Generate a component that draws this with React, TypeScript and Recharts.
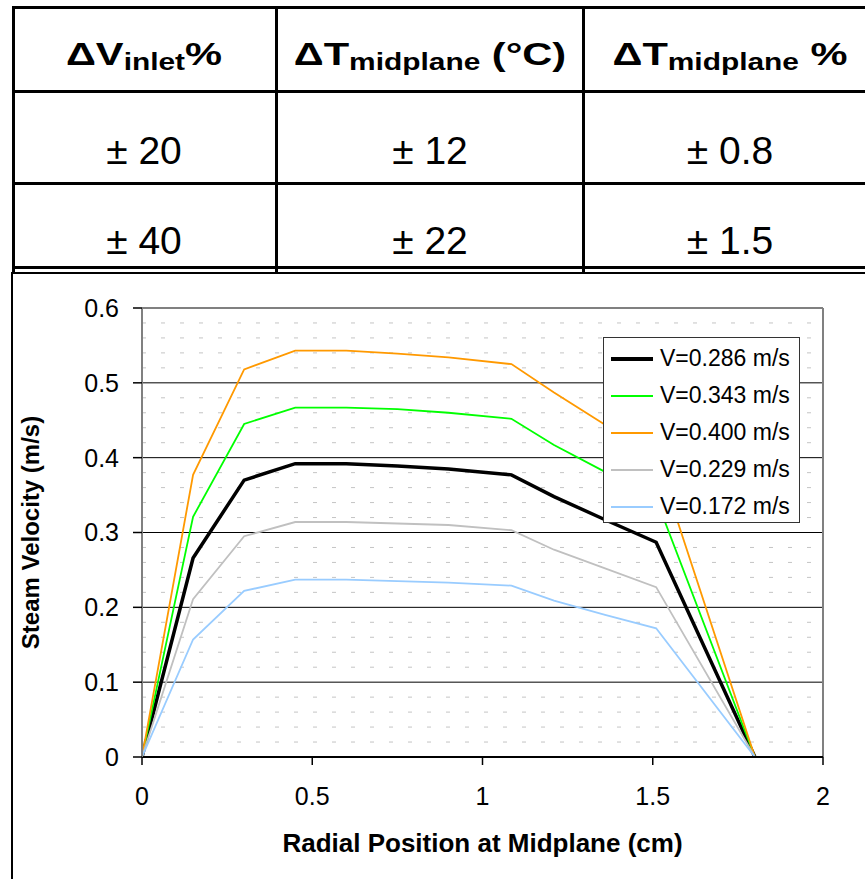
import React from 'react';
import { LineChart, Line, XAxis, YAxis, ReferenceLine, Legend, Label } from 'recharts';

// ---- Table data ----
const tableHeaders = [
  { main: 'ΔV', sub: 'inlet', tail: '%' },
  { main: 'ΔT', sub: 'midplane', tail: ' (°C)' },
  { main: 'ΔT', sub: 'midplane', tail: ' %' },
];
const dvInlet = ['± 20', '± 40'];
const dtMidplaneC = ['± 12', '± 22'];
const dtMidplanePct = ['± 0.8', '± 1.5'];

// ---- Chart data ----
const radialPositions = [0, 0.15, 0.3, 0.45, 0.6, 0.75, 0.9, 1.085, 1.21, 1.36, 1.51, 1.8];
const v286 = [0, 0.266, 0.370, 0.392, 0.392, 0.389, 0.385, 0.377, 0.348, 0.317, 0.287, 0];
const v343 = [0, 0.321, 0.445, 0.467, 0.467, 0.465, 0.460, 0.452, 0.417, 0.381, 0.345, 0];
const v400 = [0, 0.377, 0.518, 0.543, 0.543, 0.539, 0.534, 0.525, 0.487, 0.444, 0.402, 0];
const v229 = [0, 0.211, 0.295, 0.314, 0.314, 0.312, 0.310, 0.303, 0.277, 0.252, 0.227, 0];
const v172 = [0, 0.157, 0.222, 0.237, 0.237, 0.235, 0.233, 0.229, 0.209, 0.190, 0.172, 0];

const seriesNames = ['V=0.286 m/s', 'V=0.343 m/s', 'V=0.400 m/s', 'V=0.229 m/s', 'V=0.172 m/s'];
const seriesKeys = ['v286', 'v343', 'v400', 'v229', 'v172'];
const seriesValues = [v286, v343, v400, v229, v172];
const seriesColors = ['#000000', '#00FF00', '#FF9900', '#C0C0C0', '#99CCFF'];
const seriesWidths = [3.5, 1.8, 1.8, 1.8, 1.8];

const xTicks = [0, 0.5, 1, 1.5, 2];
const yTicks = [0, 0.1, 0.2, 0.3, 0.4, 0.5, 0.6];
const majorGrid = [0.1, 0.2, 0.3, 0.4, 0.5];
const minorGrid = [
  0.02, 0.04, 0.06, 0.08, 0.12, 0.14, 0.16, 0.18, 0.22, 0.24, 0.26, 0.28,
  0.32, 0.34, 0.36, 0.38, 0.42, 0.44, 0.46, 0.48, 0.52, 0.54, 0.56, 0.58,
];

const data = radialPositions.map((x, i) => {
  const row: Record<string, number> = { x };
  seriesKeys.forEach((k, j) => {
    row[k] = seriesValues[j][i];
  });
  return row;
});

const FONT = '"Liberation Sans", Arial, Helvetica, sans-serif';

const colCenters = [144, 430, 730];
const headerStretch = 1.3;

function TableSvg() {
  return (
    <svg width={865} height={272} style={{ position: 'absolute', left: 0, top: 0 }} fontFamily={FONT}>
      <rect x={12} y={6} width={860} height={3} fill="#000" />
      <rect x={12} y={90} width={860} height={3} fill="#000" />
      <rect x={12} y={182} width={860} height={3} fill="#000" />
      <rect x={12} y={266} width={860} height={3} fill="#000" />
      <rect x={12} y={6} width={3} height={266} fill="#000" />
      <rect x={275} y={6} width={3} height={266} fill="#000" />
      <rect x={582} y={6} width={3} height={266} fill="#000" />
      {tableHeaders.map((h, i) => (
        <text
          key={i}
          transform={`translate(${colCenters[i]},65) scale(${headerStretch},1)`}
          textAnchor="middle"
          fontWeight="bold"
          fontSize={32}
          fill="#000"
        >
          {h.main}
          <tspan fontSize={23} dy={5}>{h.sub}</tspan>
          <tspan fontSize={32} dy={-5}>{h.tail}</tspan>
        </text>
      ))}
      {[dvInlet, dtMidplaneC, dtMidplanePct].map((col, i) =>
        col.map((v, r) => (
          <text
            key={`${i}-${r}`}
            x={colCenters[i]}
            y={r === 0 ? 164 : 254}
            textAnchor="middle"
            fontSize={39}
            fill="#000"
          >
            {v}
          </text>
        ))
      )}
    </svg>
  );
}

function LegendBox() {
  return (
    <div
      style={{
        width: 195,
        height: 184,
        border: '1px solid #333',
        background: '#fff',
        fontFamily: FONT,
        fontSize: 23,
        color: '#000',
        boxSizing: 'content-box',
      }}
    >
      {seriesNames.map((n, i) => (
        <div key={n} style={{ height: 37, display: 'flex', alignItems: 'center', marginTop: i === 0 ? 2 : 0 }}>
          <svg width={56} height={10} style={{ flex: 'none' }}>
            <line x1={7} x2={49} y1={5} y2={5} stroke={seriesColors[i]} strokeWidth={i === 0 ? 4 : 2} />
          </svg>
          <span style={{ whiteSpace: 'nowrap' }}>{n}</span>
        </div>
      ))}
    </div>
  );
}

const renderYLabel = (props: any) => {
  const vb = props.viewBox || { x: 12, y: 308, width: 130, height: 449 };
  const cx = vb.x + 27;
  const cy = vb.y + vb.height / 2;
  return (
    <text
      x={cx}
      y={cy}
      transform={`rotate(-90 ${cx} ${cy})`}
      textAnchor="middle"
      fontFamily={FONT}
      fontWeight="bold"
      fontSize={24}
      fill="#000"
    >
      Steam Velocity (m/s)
    </text>
  );
};

const renderXLabel = (props: any) => {
  const vb = props.viewBox || { x: 142, y: 757, width: 681, height: 60 };
  const cx = vb.x + vb.width / 2;
  const cy = vb.y + 95;
  return (
    <text x={cx} y={cy} textAnchor="middle" fontFamily={FONT} fontWeight="bold" fontSize={26} fill="#000">
      Radial Position at Midplane (cm)
    </text>
  );
};

export default function App() {
  return (
    <div
      style={{
        position: 'absolute',
        left: 0,
        top: 0,
        width: 865,
        height: 879,
        overflow: 'hidden',
        background: '#fff',
        fontFamily: FONT,
      }}
    >
      <TableSvg />
      <div
        style={{
          position: 'absolute',
          left: 11,
          top: 272,
          width: 900,
          height: 700,
          border: '2px solid #000',
        }}
      />
      <div style={{ position: 'absolute', left: 0, top: 0 }}>
        <LineChart
          width={865}
          height={879}
          data={data}
          margin={{ top: 308, right: 42, bottom: 62, left: 12 }}
        >
          {minorGrid.map((v) => (
            <ReferenceLine key={`m${v}`} y={v} stroke="#C4C4C4" strokeWidth={1} strokeDasharray="4 15" />
          ))}
          {majorGrid.map((v) => (
            <ReferenceLine key={`M${v}`} y={v} stroke="#000" strokeWidth={1} />
          ))}
          <ReferenceLine y={0.6} stroke="#808080" strokeWidth={2} />
          <ReferenceLine x={2} stroke="#808080" strokeWidth={2} />
          <XAxis
            type="number"
            dataKey="x"
            domain={[0, 2]}
            ticks={xTicks}
            allowDataOverflow
            height={60}
            tickSize={8}
            tickMargin={22}
            axisLine={{ stroke: '#000', strokeWidth: 2 }}
            tickLine={{ stroke: '#000', strokeWidth: 1.5 }}
            tick={{ fill: '#000', fontSize: 25, fontFamily: FONT }}
          >
            <Label content={renderXLabel} />
          </XAxis>
          <YAxis
            type="number"
            domain={[0, 0.6]}
            ticks={yTicks}
            allowDataOverflow
            width={130}
            tickSize={9}
            tickMargin={14}
            axisLine={{ stroke: '#808080', strokeWidth: 2 }}
            tickLine={{ stroke: '#000', strokeWidth: 1.5 }}
            tick={{ fill: '#000', fontSize: 25, fontFamily: FONT }}
          >
            <Label content={renderYLabel} />
          </YAxis>
          {seriesKeys.map((k, i) => (
            <Line
              key={k}
              type="linear"
              dataKey={k}
              name={seriesNames[i]}
              stroke={seriesColors[i]}
              strokeWidth={seriesWidths[i]}
              dot={false}
              activeDot={false}
              isAnimationActive={false}
            />
          ))}
          <Legend
            layout="vertical"
            align="center"
            verticalAlign="middle"
            content={() => <LegendBox />}
            wrapperStyle={{ position: 'absolute', left: 603, top: 337, width: 197, height: 186, right: 'auto', bottom: 'auto' }}
          />
        </LineChart>
      </div>
    </div>
  );
}
